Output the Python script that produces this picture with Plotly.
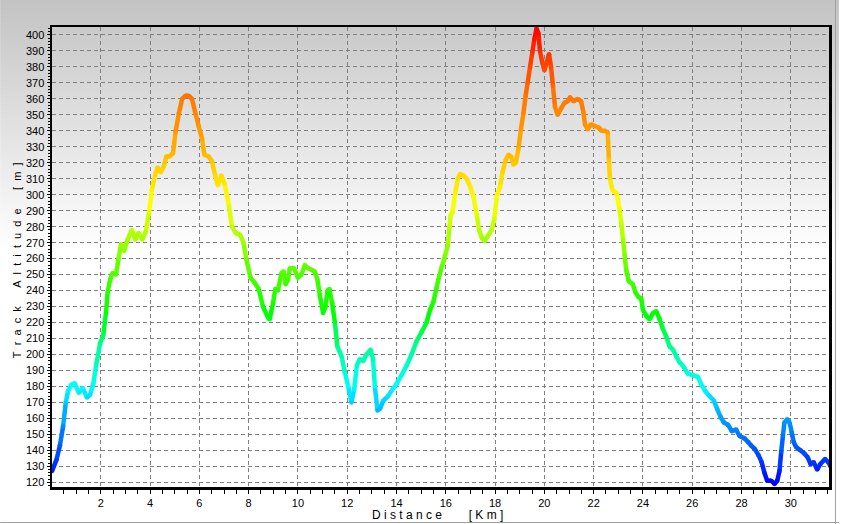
import plotly.graph_objects as go
from plotly.colors import sample_colorscale

# ---------------- data ----------------
dist_part1 = [0.02, 0.2, 0.34, 0.47, 0.58, 0.67, 0.8, 0.94, 1.11, 1.27,
              1.44, 1.57, 1.7, 1.81, 1.97, 2.1, 2.21, 2.28, 2.38, 2.48,
              2.62, 2.72, 2.82, 2.95, 3.09, 3.26, 3.4, 3.53, 3.69, 3.83,
              3.96, 4.07, 4.2, 4.3, 4.43, 4.56, 4.66, 4.79, 4.93, 5.03,
              5.17, 5.3, 5.44, 5.57, 5.7, 5.84, 5.97, 6.11, 6.2, 6.38,
              6.51, 6.64, 6.75, 6.89, 7.02, 7.18, 7.32, 7.48, 7.65, 7.79]
alt_part1 = [127, 134, 143, 155, 170, 177, 181, 182, 176, 179,
             173, 175, 182, 193, 207, 212, 226, 239, 247, 251,
             250, 260, 269, 265, 272, 278, 272, 276, 272, 277,
             289, 303, 312, 317, 314, 318, 324, 324, 326, 339,
             351, 360, 362, 362, 360, 351, 343, 335, 325, 324,
             321, 312, 306, 312, 307, 295, 280, 276, 275, 270]

dist_part2 = [7.9, 8.08, 8.24, 8.41, 8.58, 8.76, 8.85, 8.99, 9.08, 9.19,
              9.33, 9.42, 9.5, 9.6, 9.67, 9.84, 10.0, 10.14, 10.28, 10.41,
              10.55, 10.68, 10.79, 10.89, 11.02, 11.12, 11.2, 11.28, 11.39, 11.5,
              11.6, 11.77, 11.9, 12.04, 12.17, 12.28, 12.39, 12.51, 12.65, 12.78,
              12.95, 13.05, 13.12, 13.23, 13.33, 13.46, 13.66, 13.83, 14.0, 14.2,
              14.41, 14.61, 14.82, 15.02, 15.22, 15.36, 15.49, 15.63]
alt_part2 = [260, 248, 245, 241, 230, 224, 222, 232, 241, 240,
             251, 252, 244, 247, 254, 254, 248, 250, 256, 254,
             253, 252, 247, 237, 226, 230, 240, 241, 232, 220,
             205, 199, 189, 180, 170, 178, 193, 197, 196, 200,
             203, 197, 180, 165, 166, 171, 174, 178, 181.5, 187,
             193, 200, 208.5, 214, 220, 228, 232.5, 242]

dist_part3 = [15.7, 15.84, 15.97, 16.08, 16.15, 16.19, 16.27, 16.38, 16.49, 16.58,
              16.72, 16.85, 16.99, 17.12, 17.26, 17.35, 17.46, 17.57, 17.7, 17.86,
              17.97, 18.07, 18.2, 18.3, 18.41, 18.54, 18.65, 18.74, 18.84, 18.95,
              19.05, 19.15, 19.24, 19.32, 19.42, 19.51, 19.59, 19.68, 19.76, 19.82,
              19.92, 20.0, 20.09, 20.19, 20.27, 20.35, 20.43, 20.54, 20.68, 20.81,
              20.95, 21.04, 21.18, 21.35, 21.49, 21.58, 21.65, 21.76, 21.89, 22.05,
              22.22, 22.32, 22.46, 22.57, 22.62, 22.66, 22.76, 22.93]
alt_part3 = [247, 255, 262, 268, 280, 287, 289, 301, 310, 313,
             312, 310, 305, 299, 287, 278, 273, 271, 274, 278,
             285, 299, 305, 314, 321, 325, 324, 319, 320, 329,
             341, 351, 362, 370, 380, 389, 397, 404, 401, 390,
             382.5, 378, 382.5, 388, 380, 368, 355, 350, 354, 357.5,
             358.5, 361, 358.5, 360, 358.5, 352, 344, 341, 344, 343,
             342, 340, 340, 339, 322, 310, 303, 301]

dist_part4 = [23.05, 23.12, 23.19, 23.26, 23.32, 23.42, 23.59, 23.69, 23.82, 23.93,
              24.0, 24.14, 24.27, 24.41, 24.54, 24.68, 24.81, 24.95, 25.08, 25.22,
              25.35, 25.49, 25.62, 25.82, 26.03, 26.23, 26.36, 26.53, 26.7, 26.88,
              27.01, 27.15, 27.28, 27.45, 27.61, 27.78, 27.92, 28.12, 28.28, 28.39,
              28.53, 28.69, 28.82, 28.93, 29.04, 29.2, 29.34, 29.45, 29.54, 29.61,
              29.68, 29.74, 29.85, 29.95, 30.04, 30.12, 30.22, 30.39, 30.55, 30.69,
              30.8, 30.93, 31.07, 31.2, 31.39, 31.53, 31.61]
alt_part4 = [291, 282.5, 272, 262, 253, 246, 244, 239, 236, 235,
             228, 224, 222, 226, 227, 222, 216, 211, 205, 203,
             199, 195, 193, 188, 187, 186, 181.5, 177, 174, 171,
             166, 161, 157.5, 156, 152, 153, 149, 147.5, 145, 143,
             141, 137, 132.5, 126, 121, 121, 119, 121, 127, 139,
             149, 157.5, 159.5, 157.5, 151, 145, 142, 140, 138, 135.5,
             131.5, 132.5, 128, 131.5, 134.5, 132.5, 130]

x_tick_values = [2, 4, 6, 8, 10, 12, 14, 16, 18, 20, 22, 24, 26, 28, 30]
y_tick_values = list(range(120, 401, 10))

distance_km = dist_part1 + dist_part2 + dist_part3 + dist_part4
altitude_m = alt_part1 + alt_part2 + alt_part3 + alt_part4

# ---------------- style ----------------
ALT_MIN, ALT_MAX = 119, 404
stop_alt = [119, 140, 160, 180, 205, 225, 250, 275, 297, 320, 340, 360, 385, 404]
stop_col = ["rgb(0,0,255)", "rgb(0,80,255)", "rgb(0,160,255)", "rgb(0,255,255)",
            "rgb(0,255,144)", "rgb(0,255,0)", "rgb(80,255,0)", "rgb(176,255,0)",
            "rgb(255,255,0)", "rgb(255,200,0)", "rgb(255,154,0)", "rgb(255,120,0)",
            "rgb(255,60,0)", "rgb(255,0,0)"]
colorscale = [[(a - ALT_MIN) / (ALT_MAX - ALT_MIN), c] for a, c in zip(stop_alt, stop_col)]


def norm(v):
    return min(1.0, max(0.0, (v - ALT_MIN) / (ALT_MAX - ALT_MIN)))


W, H = 842, 524
ML, MR, MT, MB = 52, 10, 27, 37
PW, PH = W - ML - MR, H - MT - MB


def px_x(px):
    return (px - ML) / PW


def px_y(py):
    return (H - MB - py) / PH


fig = go.Figure()

# coloured profile: one segment per pair of points
for i in range(len(distance_km) - 1):
    mid = (altitude_m[i] + altitude_m[i + 1]) / 2.0
    col = sample_colorscale(colorscale, [norm(mid)])[0]
    fig.add_trace(go.Scatter(
        x=[distance_km[i], distance_km[i + 1]],
        y=[altitude_m[i], altitude_m[i + 1]],
        mode="lines", line=dict(color=col, width=4.5),
        hoverinfo="skip", showlegend=False))

fig.add_trace(go.Scatter(
    x=distance_km, y=altitude_m, mode="markers",
    marker=dict(size=4.5, color=altitude_m, colorscale=colorscale,
                cmin=ALT_MIN, cmax=ALT_MAX, line=dict(width=0)),
    showlegend=False, hovertemplate="%{x} km<br>%{y} m<extra></extra>"))

# background gradient (grey at top fading to white)
shapes = []
step = 2
for k in range(0, 252, step):
    g = int(round(195 + 60 * min(1.0, (k + 1) / 250.0)))
    shapes.append(dict(type="rect", xref="paper", yref="paper",
                       x0=px_x(0), x1=px_x(W), y0=px_y(k + step + 0.6), y1=px_y(k),
                       line=dict(width=0), fillcolor=f"rgb({g},{g},{g})", layer="below"))
# window frame lines
shapes.append(dict(type="line", xref="paper", yref="paper",
                   x0=px_x(838.5), x1=px_x(838.5), y0=px_y(0), y1=px_y(H),
                   line=dict(color="#a0a0a0", width=1)))
shapes.append(dict(type="line", xref="paper", yref="paper",
                   x0=px_x(0), x1=px_x(W), y0=px_y(522.5), y1=px_y(522.5),
                   line=dict(color="#a0a0a0", width=1)))

NB = "\u00a0"
y_title = (NB * 2).join("Track") + NB * 6 + (NB * 2).join("Altitude") + NB * 6 + (NB * 2).join("[m]")
x_title = NB.join("Distance") + NB * 8 + NB.join("[Km]")

font_family = "Liberation Sans, Arial, sans-serif"

fig.update_layout(
    width=W, height=H,
    margin=dict(l=ML, r=MR, t=MT, b=MB, pad=0),
    paper_bgcolor="white",
    plot_bgcolor="rgba(0,0,0,0)",
    font=dict(family=font_family, size=11, color="black"),
    showlegend=False,
    hovermode=False,
    shapes=shapes,
    annotations=[
        dict(text=y_title, xref="paper", yref="paper", x=px_x(17), y=px_y(260),
             xanchor="center", yanchor="middle", textangle=-90, showarrow=False,
             font=dict(family=font_family, size=11, color="black")),
        dict(text=x_title, xref="paper", yref="paper", x=px_x(439), y=px_y(515),
             xanchor="center", yanchor="middle", showarrow=False,
             font=dict(family=font_family, size=12, color="black")),
    ],
)

fig.update_xaxes(
    range=[0.02, 31.55],
    tickmode="array", tickvals=x_tick_values, ticktext=[str(v) for v in x_tick_values],
    ticks="outside", ticklen=4, tickwidth=1, tickcolor="black",
    showline=True, linewidth=2.5, linecolor="black", mirror=True,
    showgrid=True, gridcolor="#808080", gridwidth=1, griddash="4px,3px",
    zeroline=False,
    minor=dict(tickmode="linear", tick0=0, dtick=0.5, ticks="outside", ticklen=4,
               tickwidth=1, tickcolor="black", showgrid=False),
)
fig.update_yaxes(
    range=[117.05, 405.0],
    tickmode="array", tickvals=y_tick_values, ticktext=[str(v) for v in y_tick_values],
    ticks="outside", ticklen=3, tickwidth=1, tickcolor="black",
    showline=True, linewidth=2.5, linecolor="black", mirror=True,
    showgrid=True, gridcolor="#808080", gridwidth=1, griddash="4px,3px",
    zeroline=False,
    minor=dict(tickmode="linear", tick0=0, dtick=2, ticks="outside", ticklen=2,
               tickwidth=1, tickcolor="black", showgrid=False),
)

fig.write_html(
    "out.html",
    config={"displayModeBar": False, "staticPlot": True},
    post_script="document.body.style.margin='0px';document.body.style.overflow='hidden';",
)
